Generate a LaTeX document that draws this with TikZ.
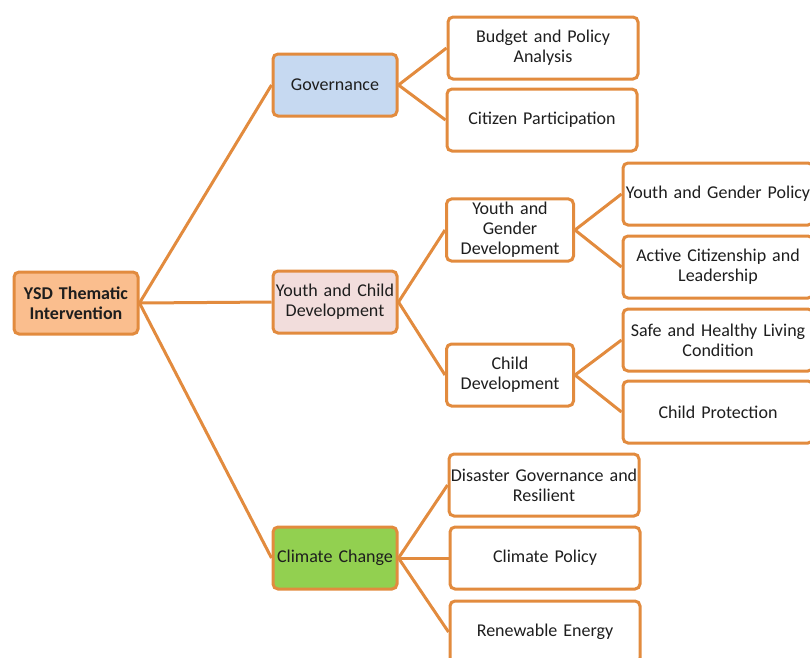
\documentclass[tikz,border=0pt]{standalone}
\usepackage{fontspec}
\setmainfont{Carlito}[WordSpace=0.8]
\definecolor{branch}{RGB}{226,139,62}
\definecolor{rootfill}{RGB}{250,190,142}
\definecolor{govfill}{RGB}{198,217,241}
\definecolor{youthfill}{RGB}{242,221,220}
\definecolor{climfill}{RGB}{146,208,80}
\definecolor{ink}{RGB}{30,30,30}
\tikzset{
  box/.style={draw=branch, line width=3pt, rounded corners=5pt, fill=white,
    align=center, inner xsep=0pt, minimum height=62pt, text=ink,
    font=\fontsize{18}{20}\selectfont},
  topic/.style={box, text width=124pt},
  subtopic/.style={box, text width=127pt},
  leaf/.style={box, text width=190pt},
  branchline/.style={draw=branch, line width=3pt}
}

\begin{document}
\begin{tikzpicture}[x=1pt,y=-1pt]
  \useasboundingbox (0,0) rectangle (810,657);
  \clip (0,0) rectangle (810,657);
  % root and themes
  \node [box, text width=124pt, fill=rootfill, font=\fontsize{18}{20}\selectfont\bfseries] (ysd) at (76,303) {YSD Thematic\\Intervention};
  \node [topic, fill=govfill] (gov) at (335,85) {Governance};
  \node [topic, fill=youthfill] (ycd) at (335,302) {Youth and Child\\Development};
  \node [topic, fill=climfill] (cc) at (335,558) {Climate Change};
  % governance
  \node [leaf] (bpa) at (543,48) {Budget and Policy\\Analysis};
  \node [leaf] (cp) at (542,120) {Citizen Participation};
  % youth and child
  \node [subtopic] (ygd) at (510,230) {Youth and\\Gender\\Development};
  \node [subtopic] (cd) at (510,375) {Child\\Development};
  \node [leaf] (ygp) at (718,194) {Youth and Gender Policy};
  \node [leaf] (acl) at (718,267) {Active Citizenship and\\Leadership};
  \node [leaf] (shl) at (718,340) {Safe and Healthy Living\\Condition};
  \node [leaf] (chp) at (718,412) {Child Protection};
  % climate
  \node [leaf] (dgr) at (544,485) {Disaster Governance and\\Resilient};
  \node [leaf] (clp) at (545,558) {Climate Policy};
  \node [leaf] (ren) at (545,632) {Renewable Energy};
  \draw [branchline] (ysd.east) -- (gov.west);
  \draw [branchline] (ysd.east) -- (ycd.west);
  \draw [branchline] (ysd.east) -- (cc.west);
  \draw [branchline] (gov.east) -- (bpa.west);
  \draw [branchline] (gov.east) -- (cp.west);
  \draw [branchline] (ycd.east) -- (ygd.west);
  \draw [branchline] (ycd.east) -- (cd.west);
  \draw [branchline] (ygd.east) -- (ygp.west);
  \draw [branchline] (ygd.east) -- (acl.west);
  \draw [branchline] (cd.east) -- (shl.west);
  \draw [branchline] (cd.east) -- (chp.west);
  \draw [branchline] (cc.east) -- (dgr.west);
  \draw [branchline] (cc.east) -- (clp.west);
  \draw [branchline] (cc.east) -- (ren.west);
\end{tikzpicture}
\end{document}
